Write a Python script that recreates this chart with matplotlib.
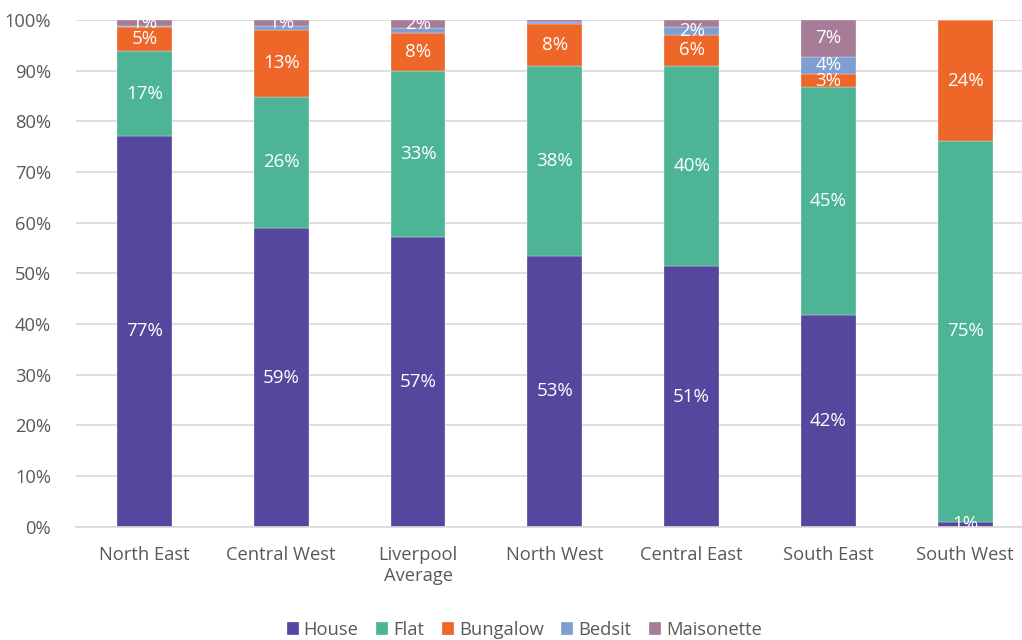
import matplotlib.pyplot as plt
import numpy as np

plt.rcParams['font.family'] = ['Open Sans', 'DejaVu Sans']

regions = ['North East', 'Central West', 'Liverpool\nAverage', 'North West',
           'Central East', 'South East', 'South West']
types = ['House', 'Flat', 'Bungalow', 'Bedsit', 'Maisonette']
colors = ['#56479E', '#4DB595', '#EF6629', '#7F9FD3', '#A67C96']

house = [77.1, 58.9, 57.1, 53.4, 51.4, 41.7, 1.0]
flat = [16.7, 26.0, 32.8, 37.6, 39.6, 45.0, 75.1]
bungalow = [4.9, 13.2, 7.6, 8.3, 6.0, 2.6, 23.9]
bedsit = [0.1, 0.7, 1.0, 0.4, 1.7, 3.5, 0.0]
maisonette = [1.2, 1.2, 1.6, 0.3, 1.3, 7.2, 0.0]

# which segments carry a percentage label (region index, type index)
shown = [(0, 0), (0, 1), (0, 2), (0, 4),
         (1, 0), (1, 1), (1, 2), (1, 4),
         (2, 0), (2, 1), (2, 2), (2, 4),
         (3, 0), (3, 1), (3, 2),
         (4, 0), (4, 1), (4, 2), (4, 3),
         (5, 0), (5, 1), (5, 2), (5, 3), (5, 4),
         (6, 0), (6, 1), (6, 2)]

grey = '#595959'
fig = plt.figure(figsize=(10.22, 6.4), dpi=100)
ax = fig.add_axes([0.0744, 0.177, 0.937, 0.7917])

data = np.array([house, flat, bungalow, bedsit, maisonette])
x = np.arange(len(regions))
bottom = np.zeros(len(regions))
for i, name in enumerate(types):
    ax.bar(x, data[i], 0.4, bottom=bottom, color=colors[i], label=name,
           edgecolor='white', linewidth=0.2, zorder=2)
    for j in range(len(regions)):
        if (j, i) in shown:
            ax.text(x[j], bottom[j] + data[i][j] / 2, '%.0f%%' % data[i][j],
                    ha='center', va='center', color='white', fontsize=13.5,
                    zorder=3, clip_on=True)
    bottom += data[i]

ax.set_xlim(-0.5, len(regions) - 0.5)
ax.set_ylim(0, 100)
ax.set_yticks(np.arange(0, 101, 10))
ax.set_yticklabels(['%d%%' % v for v in range(0, 101, 10)])
ax.set_xticks(x)
ax.set_xticklabels(regions)
ax.yaxis.grid(True, color='#d9d9d9', linewidth=1.2, zorder=0)
ax.set_axisbelow(True)
for s in ['top', 'right', 'left']:
    ax.spines[s].set_visible(False)
ax.spines['bottom'].set_color('#d9d9d9')
ax.spines['bottom'].set_linewidth(1.2)
ax.tick_params(length=0, labelsize=13.2, labelcolor=grey)
ax.tick_params(axis='x', pad=14)
ax.tick_params(axis='y', pad=18)

leg = fig.legend(loc='lower center', bbox_to_anchor=(0.513, -0.024), ncol=5,
                 frameon=False, fontsize=13.2, handlelength=0.65,
                 handleheight=0.65, handletextpad=0.28, columnspacing=0.96)
for t in leg.get_texts():
    t.set_color(grey)

fig.savefig('out.png', dpi=100)
